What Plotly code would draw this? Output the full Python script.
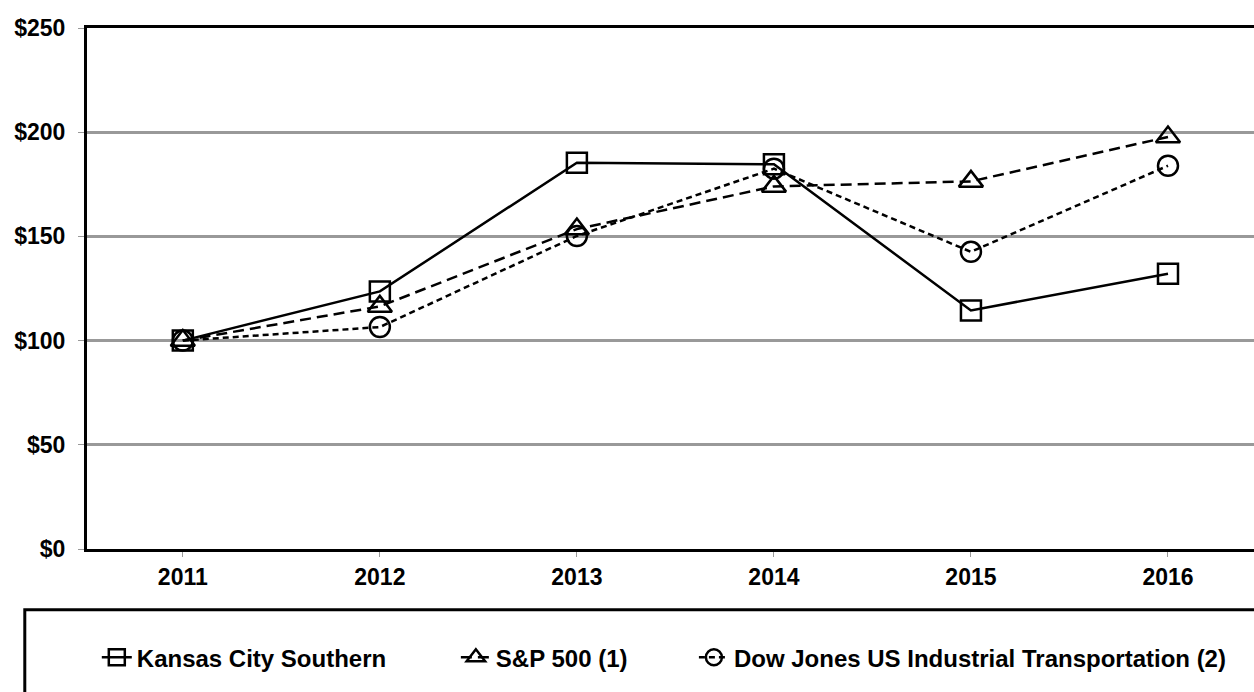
import plotly.graph_objects as go

years = ["2011", "2012", "2013", "2014", "2015", "2016"]
kcs = [100, 123.6, 185.4, 184.6, 114.5, 132.1]
sp500 = [100, 116.4, 153.5, 174.0, 176.4, 197.7]
djt = [100, 106.5, 150.2, 182.5, 142.6, 183.9]
y_ticks = [0, 50, 100, 150, 200, 250]
y_tick_labels = ["$0", "$50", "$100", "$150", "$200", "$250"]

FONT = "Liberation Sans"
FIG_W, FIG_H = 1254, 692

# plot area in page pixels
PL, PT, PB = 87.2, 27.5, 549.2
PR = 1254
PW, PH = PR - PL, PB - PT


def px(x):
    return (x - PL) / PW


def py(y):
    return (PB - y) / PH


fig = go.Figure()
fig.add_trace(go.Scatter(
    x=years, y=kcs, name="Kansas City Southern", mode="lines+markers",
    line=dict(color="black", width=2.5),
    marker=dict(symbol="square-open", size=20, color="black", line=dict(width=2.5, color="black")),
    legend="legend",
))
fig.add_trace(go.Scatter(
    x=years, y=sp500, name="S&P 500 (1)", mode="lines+markers",
    line=dict(color="black", width=2.5, dash="11px,6px"),
    marker=dict(symbol="triangle-up-open", size=21, color="black", line=dict(width=2.5, color="black")),
    legend="legend2",
))
fig.add_trace(go.Scatter(
    x=years, y=djt, name="Dow Jones US Industrial Transportation (2)", mode="lines+markers",
    line=dict(color="black", width=2.5, dash="6px,4px"),
    marker=dict(symbol="circle-open", size=20, color="black", line=dict(width=2.5, color="black")),
    legend="legend3",
))

legend_common = dict(
    orientation="h", yanchor="middle", y=py(658), xanchor="left",
    font=dict(family=FONT, size=24, color="black", weight="bold"),
    bgcolor="rgba(0,0,0,0)", borderwidth=0,
)

r0 = -(183 - PL) / 197.0
r1 = r0 + PW / 197.0

fig.update_layout(
    width=FIG_W, height=FIG_H,
    margin=dict(l=PL, r=0, t=PT, b=FIG_H - PB),
    plot_bgcolor="white", paper_bgcolor="white",
    font=dict(family=FONT, size=20, color="black", weight="bold"),
    showlegend=True,
    legend=dict(x=px(97), **legend_common),
    legend2=dict(x=px(456), **legend_common),
    legend3=dict(x=px(694), **legend_common),
    xaxis=dict(
        type="category", range=[r0, r1],
        showline=True, linecolor="black", linewidth=3, mirror=True,
        showgrid=False, ticks="outside", ticklen=5, tickcolor="#999999",
        tickfont=dict(family=FONT, size=23, color="black", weight="bold"),
        zeroline=False,
    ),
    yaxis=dict(
        range=[0, 250], tickvals=y_ticks, ticktext=y_tick_labels,
        showline=True, linecolor="black", linewidth=3,
        showgrid=True, gridcolor="#999999", gridwidth=2.5,
        ticks="outside", ticklen=6, tickcolor="#999999",
        ticklabelstandoff=8,
        tickfont=dict(family=FONT, size=23, color="black", weight="bold"),
        zeroline=False,
    ),
    shapes=[dict(
        type="rect", xref="paper", yref="paper",
        x0=px(25), x1=1.02, y0=py(610), y1=py(720),
        line=dict(color="black", width=3), fillcolor="rgba(0,0,0,0)", layer="below",
    )],
)

fig.write_html(
    "out.html",
    config={"displayModeBar": False},
    post_script="document.body.style.margin='0';document.body.style.overflow='hidden';",
)
